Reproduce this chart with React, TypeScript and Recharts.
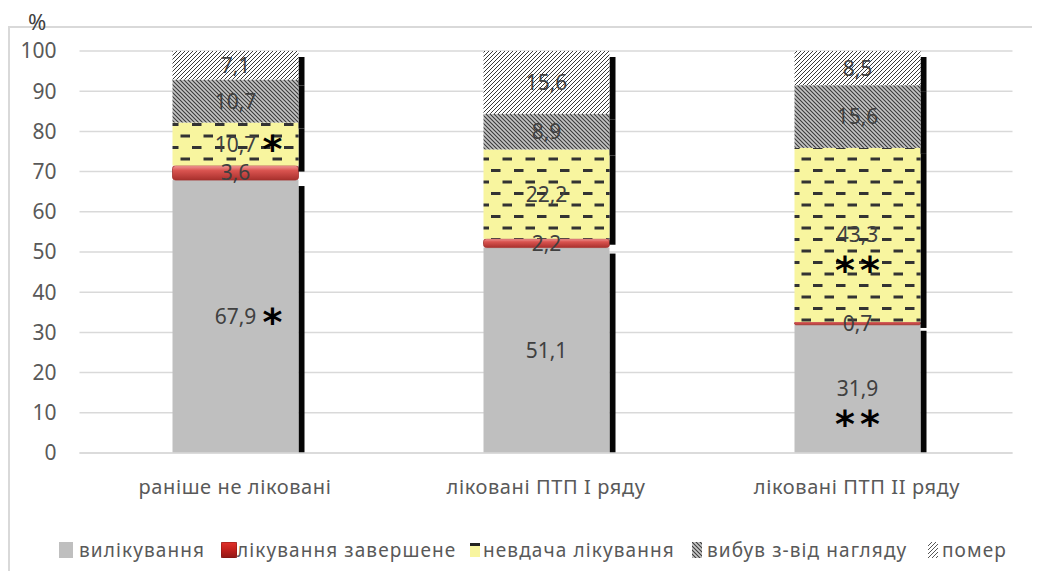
import { BarChart, Bar, XAxis, YAxis, CartesianGrid, LabelList } from 'recharts';

const categories = ['раніше не ліковані', 'ліковані ПТП I ряду', 'ліковані ПТП II ряду'];
const cured = [67.9, 51.1, 31.9];
const completed = [3.6, 2.2, 0.7];
const failed = [10.7, 22.2, 43.3];
const lost = [10.7, 8.9, 15.6];
const died = [7.1, 15.6, 8.5];
const curedMarks = ['*', '', '**'];
const failedMarks = ['*', '', '**'];
const yTicks = [0, 10, 20, 30, 40, 50, 60, 70, 80, 90, 100];
const seriesNames = ['вилікування', 'лікування завершене', 'невдача лікування', 'вибув з-від нагляду', 'помер'];

const data = categories.map((name, i) => ({
  name,
  cured: cured[i],
  completed: completed[i],
  failed: failed[i],
  lost: lost[i],
  died: died[i],
  curedMark: curedMarks[i],
  failedMark: failedMarks[i],
}));

const FONT = '"Noto Sans", "DejaVu Sans", sans-serif';
const TOP = 43;
const PLOT_H = 402;
const BASE_Y = TOP + PLOT_H;

const fmt = (v: any) => String(v).replace('.', ',');

// segment with the black drop shadow on its right side
const ShadowRect = (props: any) => {
  const { x, y, width, height, fill } = props;
  if (!height || height <= 0) return null;
  const sy = y + 6;
  const sh = Math.max(0, Math.min(y + height + 6, BASE_Y) - sy);
  return (
    <g>
      <rect x={x + width} y={sy} width={6} height={sh} fill="#050505" />
      <rect x={x} y={y} width={width} height={height} fill={fill} />
    </g>
  );
};

const RedRect = (props: any) => {
  const { x, y, width, height } = props;
  if (!height || height <= 0) return null;
  return (
    <rect
      x={x}
      y={y}
      width={width}
      height={height}
      rx={Math.min(3, height / 2)}
      fill="url(#redGrad)"
      stroke="#A33330"
      strokeWidth={0.8}
    />
  );
};

const Asterisks = (props: any) => {
  const { x, y, width, height, value } = props;
  if (!value) return null;
  const cx = x + width / 2;
  const cy = y + height / 2;
  const style = { fontFamily: '"DejaVu Sans", sans-serif', fontWeight: 700, fontSize: 38 };
  if (value === '*') {
    return (
      <text x={cx + 37} y={cy + 18} textAnchor="middle" fill="#000" style={style}>
        *
      </text>
    );
  }
  return (
    <g>
      <text x={cx - 12.5} y={cy + 27 + 21} textAnchor="middle" fill="#000" style={style}>
        *
      </text>
      <text x={cx + 12.5} y={cy + 27 + 21} textAnchor="middle" fill="#000" style={style}>
        *
      </text>
    </g>
  );
};

const labelStyle = { fill: '#404040', fontSize: 21, fontFamily: FONT };

const Swatch = ({ kind }: { kind: number }) => {
  const w = kind < 2 ? (kind === 1 ? 16 : 14) : 10;
  const h = kind === 2 ? 14 : 16;
  const id = 'sw' + kind;
  return (
    <svg width={w} height={h} style={{ display: 'block' }}>
      <defs>
        <linearGradient id={id + 'g'} x1="0" y1="0" x2="0" y2="1">
          <stop offset="0" stopColor="#E2322C" />
          <stop offset="0.5" stopColor="#C0201C" />
          <stop offset="1" stopColor="#8E1714" />
        </linearGradient>
        <pattern id={id + 'l'} width="4" height="4" patternUnits="userSpaceOnUse">
          <rect width="4" height="4" fill="#C8C8C8" />
          <path d="M-1,-1 L5,5 M-1,3 L1,5 M3,-1 L5,1" stroke="#3a3a3a" strokeWidth="1.1" />
        </pattern>
        <pattern id={id + 'd'} width="4" height="4" patternUnits="userSpaceOnUse">
          <rect width="4" height="4" fill="#fff" />
          <path d="M-1,1 L1,-1 M-1,5 L5,-1 M3,5 L5,3" stroke="#444" strokeWidth="0.9" />
        </pattern>
      </defs>
      {kind === 0 && <rect width={w} height={h} fill="#BFBFBF" />}
      {kind === 1 && <rect width={w} height={h} rx={2} fill={`url(#${id}g)`} stroke="#7a1512" strokeWidth={0.8} />}
      {kind === 2 && (
        <g>
          <rect width={w} height={h} fill="#F8F59F" />
          <rect width={w} height={3} fill="#222" />
        </g>
      )}
      {kind === 3 && <rect width={w} height={h} fill={`url(#${id}l)`} />}
      {kind === 4 && <rect width={w} height={h} fill={`url(#${id}d)`} />}
    </svg>
  );
};

const legendSwatchX = [51, 213, 462, 684, 920];
const legendTextX = [71, 229, 475, 699, 934];

export default function App() {
  return (
    <div style={{ position: 'relative', width: 1032, height: 563, fontFamily: FONT }}>
      <style>{'body{overflow:hidden}'}</style>
      <div
        style={{
          position: 'absolute',
          left: 0,
          top: 18,
          width: 1060,
          height: 620,
          borderTop: '2px solid #D9D9D9',
          borderLeft: '2px solid #D9D9D9',
        }}
      />
      <div style={{ position: 'absolute', left: 20, top: -2, fontSize: 22, color: '#404040' }}>%</div>
      <div style={{ position: 'absolute', left: 0, top: 0 }}>
        <BarChart
          width={1032}
          height={530}
          data={data}
          barSize={126}
          margin={{ top: TOP, right: 27.5, bottom: 45, left: 11.5 }}
        >
          <defs>
            <linearGradient id="redGrad" x1="0" y1="0" x2="0" y2="1">
              <stop offset="0" stopColor="#F29B98" />
              <stop offset="0.35" stopColor="#D9534F" />
              <stop offset="1" stopColor="#A8302D" />
            </linearGradient>
            <pattern id="dashPat" width="23" height="23" patternUnits="userSpaceOnUse">
              <rect width="23" height="23" fill="#F8F59F" />
              <rect x="0" y="0" width="9.5" height="3" fill="#333" />
              <rect x="11.5" y="11.5" width="9.5" height="3" fill="#333" />
            </pattern>
            <pattern id="lostPat" width="4" height="4" patternUnits="userSpaceOnUse">
              <rect width="4" height="4" fill="#C4C4C4" />
              <path d="M-1,-1 L5,5 M-1,3 L1,5 M3,-1 L5,1" stroke="#3a3a3a" strokeWidth="1.1" />
            </pattern>
            <pattern id="diedPat" width="4" height="4" patternUnits="userSpaceOnUse">
              <rect width="4" height="4" fill="#fff" />
              <path d="M-1,1 L1,-1 M-1,5 L5,-1 M3,5 L5,3" stroke="#222" strokeWidth="0.9" />
            </pattern>
          </defs>
          <CartesianGrid vertical={false} stroke="#D9D9D9" strokeWidth={1.5} />
          <XAxis
            dataKey="name"
            height={40}
            axisLine={{ stroke: '#D9D9D9', strokeWidth: 1.5 }}
            tickLine={false}
            tickSize={6}
            tickMargin={21}
            tick={{ fill: '#595959', fontSize: 20, fontFamily: FONT, letterSpacing: 0.6 }}
          />
          <YAxis
            width={60}
            domain={[0, 100]}
            ticks={yTicks}
            axisLine={false}
            tickLine={false}
            tickSize={6}
            tickMargin={17}
            tick={{ fill: '#595959', fontSize: 21, fontFamily: FONT }}
          />
          <Bar dataKey="cured" stackId="a" fill="#BFBFBF" shape={ShadowRect} isAnimationActive={false}>
            <LabelList dataKey="cured" position="center" formatter={fmt} style={labelStyle} />
            <LabelList dataKey="curedMark" content={Asterisks} />
          </Bar>
          <Bar dataKey="completed" stackId="a" fill="#C0504D" shape={RedRect} isAnimationActive={false}>
            <LabelList dataKey="completed" position="center" formatter={fmt} style={labelStyle} />
          </Bar>
          <Bar dataKey="failed" stackId="a" fill="url(#dashPat)" shape={ShadowRect} isAnimationActive={false}>
            <LabelList dataKey="failed" position="center" formatter={fmt} style={labelStyle} />
            <LabelList dataKey="failedMark" content={Asterisks} />
          </Bar>
          <Bar dataKey="lost" stackId="a" fill="url(#lostPat)" shape={ShadowRect} isAnimationActive={false}>
            <LabelList dataKey="lost" position="center" formatter={fmt} style={labelStyle} />
          </Bar>
          <Bar dataKey="died" stackId="a" fill="url(#diedPat)" shape={ShadowRect} isAnimationActive={false}>
            <LabelList dataKey="died" position="center" formatter={fmt} style={labelStyle} />
          </Bar>
        </BarChart>
      </div>
      {seriesNames.map((n, i) => (
        <div key={n}>
          <div style={{ position: 'absolute', left: legendSwatchX[i], top: i === 2 ? 535 : 534 }}>
            <Swatch kind={i} />
          </div>
          <div
            style={{
              position: 'absolute',
              left: legendTextX[i],
              top: 529,
              fontSize: 19,
              lineHeight: '26px',
              color: '#595959',
              letterSpacing: 1.1,
              whiteSpace: 'nowrap',
            }}
          >
            {n}
          </div>
        </div>
      ))}
    </div>
  );
}
